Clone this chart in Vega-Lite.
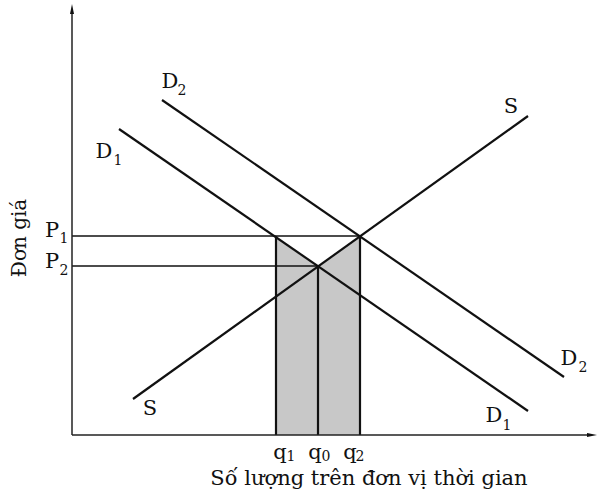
{
  "$schema": "https://vega.github.io/schema/vega-lite/v6.json",
  "width": 598,
  "height": 502,
  "padding": 0,
  "autosize": {"type": "fit", "contains": "padding"},
  "background": "white",
  "config": {"view": {"stroke": null}},
  "datasets": {
    "area": [
      {"q": 204, "p": 199},
      {"q": 246, "p": 169},
      {"q": 288, "p": 199}
    ],
    "curves": [
      {"name": "D1", "q": 47, "p": 306, "q2": 456, "p2": 24},
      {"name": "D2", "q": 90, "p": 335, "q2": 492, "p2": 58},
      {"name": "S", "q": 61, "p": 36, "q2": 456, "p2": 319},
      {"name": "q1", "q": 204, "p": 0, "q2": 204, "p2": 199},
      {"name": "q0", "q": 246, "p": 0, "q2": 246, "p2": 169},
      {"name": "q2", "q": 288, "p": 0, "q2": 288, "p2": 199}
    ],
    "guides": [
      {"name": "P1", "q": 0, "p": 199, "q2": 288, "p2": 199},
      {"name": "P2", "q": 0, "p": 169, "q2": 246, "p2": 169}
    ],
    "axes": [
      {"name": "yaxis", "q": 0, "p": 0, "q2": 0, "p2": 426},
      {"name": "xaxis", "q": 0, "p": 0, "q2": 520, "p2": 0}
    ],
    "arrowUp": [{"q": 0, "p": 426}],
    "arrowRight": [{"q": 520, "p": 0}],
    "labels": [
      {"t": "D", "q": 98, "p": 347},
      {"t": "D", "q": 32, "p": 277},
      {"t": "D", "q": 497, "p": 70},
      {"t": "D", "q": 422, "p": 13},
      {"t": "S", "q": 439, "p": 322},
      {"t": "S", "q": 78, "p": 20},
      {"t": "P", "q": -20, "p": 198},
      {"t": "P", "q": -20, "p": 167},
      {"t": "q", "q": 208, "p": -24},
      {"t": "q", "q": 243, "p": -24},
      {"t": "q", "q": 278, "p": -24}
    ],
    "subs": [
      {"t": "2", "q": 110, "p": 340},
      {"t": "1", "q": 46, "p": 270},
      {"t": "2", "q": 511, "p": 63},
      {"t": "1", "q": 435, "p": 5},
      {"t": "1", "q": -8, "p": 192},
      {"t": "2", "q": -8, "p": 160},
      {"t": "1", "q": 219, "p": -26},
      {"t": "0", "q": 254, "p": -26},
      {"t": "2", "q": 288, "p": -26}
    ],
    "xtitle": [{"t": "Số lượng trên đơn vị thời gian", "q": 297, "p": -50}],
    "ytitle": [{"t": "Đơn giá", "q": -46, "p": 197}]
  },
  "layer": [
    {
      "data": {"name": "area"},
      "mark": {"type": "area", "color": "#c8c8c8", "opacity": 1},
      "encoding": {
        "x": {"field": "q", "type": "quantitative", "scale": {"domain": [-72, 526], "nice": false, "zero": false}, "axis": null},
        "y": {"field": "p", "type": "quantitative", "scale": {"domain": [-67, 435], "nice": false, "zero": false}, "axis": null},
        "y2": {"datum": 0}
      }
    },
    {
      "data": {"name": "guides"},
      "mark": {"type": "rule", "color": "#111", "strokeWidth": 1.6},
      "encoding": {
        "x": {"field": "q", "type": "quantitative", "scale": {"domain": [-72, 526], "nice": false, "zero": false}, "axis": null},
        "y": {"field": "p", "type": "quantitative", "scale": {"domain": [-67, 435], "nice": false, "zero": false}, "axis": null},
        "x2": {"field": "q2"},
        "y2": {"field": "p2"}
      }
    },
    {
      "data": {"name": "curves"},
      "mark": {"type": "rule", "color": "#111", "strokeWidth": 2.2},
      "encoding": {
        "x": {"field": "q", "type": "quantitative", "scale": {"domain": [-72, 526], "nice": false, "zero": false}, "axis": null},
        "y": {"field": "p", "type": "quantitative", "scale": {"domain": [-67, 435], "nice": false, "zero": false}, "axis": null},
        "x2": {"field": "q2"},
        "y2": {"field": "p2"}
      }
    },
    {
      "data": {"name": "axes"},
      "mark": {"type": "rule", "color": "#222", "strokeWidth": 1.5},
      "encoding": {
        "x": {"field": "q", "type": "quantitative", "scale": {"domain": [-72, 526], "nice": false, "zero": false}, "axis": null},
        "y": {"field": "p", "type": "quantitative", "scale": {"domain": [-67, 435], "nice": false, "zero": false}, "axis": null},
        "x2": {"field": "q2"},
        "y2": {"field": "p2"}
      }
    },
    {
      "data": {"name": "arrowUp"},
      "mark": {"type": "point", "shape": "M0,-1L0.4,1L-0.4,1Z", "size": 100, "filled": true, "color": "#111", "opacity": 1},
      "encoding": {
        "x": {"field": "q", "type": "quantitative", "scale": {"domain": [-72, 526], "nice": false, "zero": false}, "axis": null},
        "y": {"field": "p", "type": "quantitative", "scale": {"domain": [-67, 435], "nice": false, "zero": false}, "axis": null}
      }
    },
    {
      "data": {"name": "arrowRight"},
      "mark": {"type": "point", "shape": "M1,0L-1,0.4L-1,-0.4Z", "size": 100, "filled": true, "color": "#111", "opacity": 1},
      "encoding": {
        "x": {"field": "q", "type": "quantitative", "scale": {"domain": [-72, 526], "nice": false, "zero": false}, "axis": null},
        "y": {"field": "p", "type": "quantitative", "scale": {"domain": [-67, 435], "nice": false, "zero": false}, "axis": null}
      }
    },
    {
      "data": {"name": "labels"},
      "mark": {"type": "text", "font": "DejaVu Serif", "fontSize": 21, "color": "#111", "align": "center", "baseline": "alphabetic"},
      "encoding": {
        "x": {"field": "q", "type": "quantitative", "scale": {"domain": [-72, 526], "nice": false, "zero": false}, "axis": null},
        "y": {"field": "p", "type": "quantitative", "scale": {"domain": [-67, 435], "nice": false, "zero": false}, "axis": null},
        "text": {"field": "t"}
      }
    },
    {
      "data": {"name": "subs"},
      "mark": {"type": "text", "font": "DejaVu Serif", "fontSize": 14, "color": "#111", "align": "center", "baseline": "alphabetic"},
      "encoding": {
        "x": {"field": "q", "type": "quantitative", "scale": {"domain": [-72, 526], "nice": false, "zero": false}, "axis": null},
        "y": {"field": "p", "type": "quantitative", "scale": {"domain": [-67, 435], "nice": false, "zero": false}, "axis": null},
        "text": {"field": "t"}
      }
    },
    {
      "data": {"name": "xtitle"},
      "mark": {"type": "text", "font": "DejaVu Serif", "fontSize": 21, "color": "#111", "align": "center", "baseline": "alphabetic"},
      "encoding": {
        "x": {"field": "q", "type": "quantitative", "scale": {"domain": [-72, 526], "nice": false, "zero": false}, "axis": null},
        "y": {"field": "p", "type": "quantitative", "scale": {"domain": [-67, 435], "nice": false, "zero": false}, "axis": null},
        "text": {"field": "t"}
      }
    },
    {
      "data": {"name": "ytitle"},
      "mark": {"type": "text", "font": "DejaVu Serif", "fontSize": 20, "color": "#111", "align": "center", "baseline": "alphabetic", "angle": 270},
      "encoding": {
        "x": {"field": "q", "type": "quantitative", "scale": {"domain": [-72, 526], "nice": false, "zero": false}, "axis": null},
        "y": {"field": "p", "type": "quantitative", "scale": {"domain": [-67, 435], "nice": false, "zero": false}, "axis": null},
        "text": {"field": "t"}
      }
    }
  ]
}
